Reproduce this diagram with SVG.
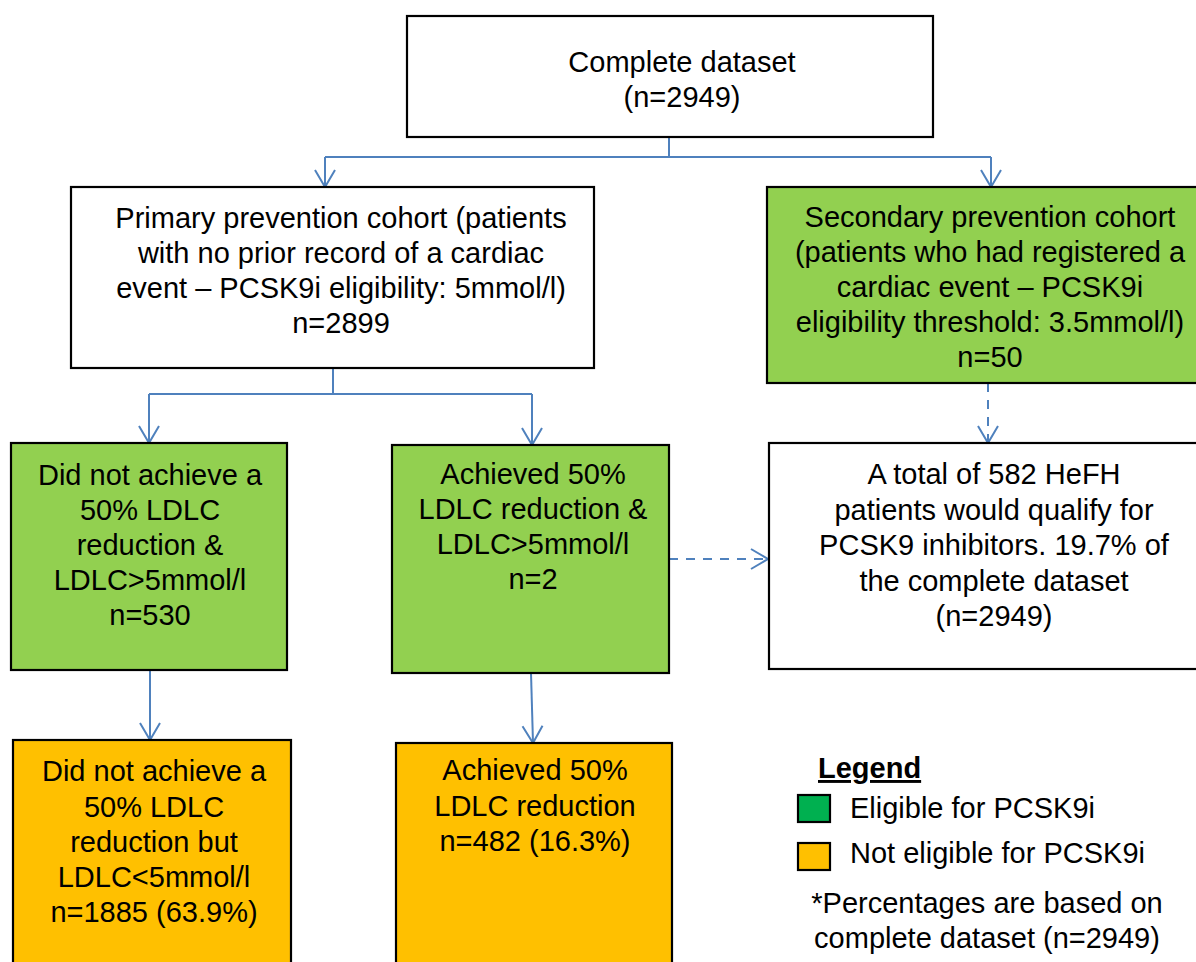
<svg xmlns="http://www.w3.org/2000/svg" width="1196" height="962" viewBox="0 0 1196 962">
  <style>
    .box { stroke: #000; stroke-width: 2.2; }
    .white { fill: #fff; }
    .green { fill: #92D050; }
    .orange { fill: #FFC000; }
    .t { font-family: "Liberation Sans", Arial, sans-serif; font-size: 29px; fill: #000; text-anchor: middle; }
    .tl { font-family: "Liberation Sans", Arial, sans-serif; font-size: 29px; fill: #000; }
    .conn { fill: none; stroke: #4F81BD; stroke-width: 2; }
    .dash { stroke-dasharray: 9 8; }
  </style>
  <defs>
    <marker id="arrow" markerUnits="userSpaceOnUse" viewBox="-19 -12 21 24" refX="0" refY="0" markerWidth="21" markerHeight="24" orient="auto">
      <path d="M -17 -10 L 0 0 L -17 10" fill="none" stroke="#4F81BD" stroke-width="2"/>
    </marker>
  </defs>

  <!-- connectors -->
  <g id="connectors">
    <path class="conn" d="M 669 137 V 157"/>
    <path class="conn" d="M 325 157 H 991"/>
    <path class="conn" d="M 325 157 V 187" marker-end="url(#arrow)"/>
    <path class="conn" d="M 991 157 V 187" marker-end="url(#arrow)"/>
    <path class="conn" d="M 333 368 V 394"/>
    <path class="conn" d="M 149 394 H 532"/>
    <path class="conn" d="M 149 394 V 443" marker-end="url(#arrow)"/>
    <path class="conn" d="M 532 394 V 445" marker-end="url(#arrow)"/>
    <path class="conn" d="M 150 670 V 740" marker-end="url(#arrow)"/>
    <path class="conn" d="M 531 673 L 533 743" marker-end="url(#arrow)"/>
    <path class="conn dash" d="M 988 383 V 443" marker-end="url(#arrow)"/>
    <path class="conn dash" d="M 669 559 H 768" marker-end="url(#arrow)"/>
  </g>

  <g id="complete-dataset">
    <rect class="box white" x="407" y="16" width="526" height="121"/>
    <text class="t" x="682" y="72">Complete dataset</text>
    <text class="t" x="682" y="107">(n=2949)</text>
  </g>

  <g id="primary-cohort">
    <rect class="box white" x="71" y="187" width="523" height="181"/>
    <text class="t" x="341" y="228">Primary prevention cohort (patients</text>
    <text class="t" x="341" y="263">with no prior record of a cardiac</text>
    <text class="t" x="341" y="298">event – PCSK9i eligibility: 5mmol/l)</text>
    <text class="t" x="341" y="333">n=2899</text>
  </g>

  <g id="secondary-cohort">
    <rect class="box green" x="767" y="187" width="440" height="196"/>
    <text class="t" x="990" y="227">Secondary prevention cohort</text>
    <text class="t" x="990" y="262">(patients who had registered a</text>
    <text class="t" x="990" y="297">cardiac event – PCSK9i</text>
    <text class="t" x="990" y="332">eligibility threshold: 3.5mmol/l)</text>
    <text class="t" x="990" y="367">n=50</text>
  </g>

  <g id="not-achieved-above">
    <rect class="box green" x="11" y="443" width="276" height="227"/>
    <text class="t" x="150" y="485">Did not achieve a</text>
    <text class="t" x="150" y="520">50% LDLC</text>
    <text class="t" x="150" y="555">reduction &amp;</text>
    <text class="t" x="150" y="590">LDLC&gt;5mmol/l</text>
    <text class="t" x="150" y="625">n=530</text>
  </g>

  <g id="achieved-above">
    <rect class="box green" x="392" y="445" width="277" height="228"/>
    <text class="t" x="533" y="484">Achieved 50%</text>
    <text class="t" x="533" y="519">LDLC reduction &amp;</text>
    <text class="t" x="533" y="554">LDLC&gt;5mmol/l</text>
    <text class="t" x="533" y="589">n=2</text>
  </g>

  <g id="total-qualifying">
    <rect class="box white" x="769" y="443" width="440" height="226"/>
    <text class="t" x="994" y="484">A total of 582 HeFH</text>
    <text class="t" x="994" y="519.5">patients would qualify for</text>
    <text class="t" x="994" y="555">PCSK9 inhibitors. 19.7% of</text>
    <text class="t" x="994" y="590.5">the complete dataset</text>
    <text class="t" x="994" y="626">(n=2949)</text>
  </g>

  <g id="not-achieved-below">
    <rect class="box orange" x="13" y="740" width="278" height="240"/>
    <text class="t" x="154" y="781">Did not achieve a</text>
    <text class="t" x="154" y="816.5">50% LDLC</text>
    <text class="t" x="154" y="852">reduction but</text>
    <text class="t" x="154" y="887">LDLC&lt;5mmol/l</text>
    <text class="t" x="154" y="922">n=1885 (63.9%)</text>
  </g>

  <g id="achieved-below">
    <rect class="box orange" x="396" y="743" width="276" height="240"/>
    <text class="t" x="535" y="780">Achieved 50%</text>
    <text class="t" x="535" y="816">LDLC reduction</text>
    <text class="t" x="535" y="851">n=482 (16.3%)</text>
  </g>

  <g id="legend">
    <text class="tl" x="818" y="778" font-weight="bold" text-decoration="underline">Legend</text>
    <rect class="box" x="798" y="795" width="32" height="27" fill="#00B050"/>
    <text class="tl" x="850" y="818">Eligible for PCSK9i</text>
    <rect class="box orange" x="798" y="843" width="32" height="27"/>
    <text class="tl" x="850" y="863">Not eligible for PCSK9i</text>
    <text class="t" x="987" y="913">*Percentages are based on</text>
    <text class="t" x="987" y="948">complete dataset (n=2949)</text>
  </g>
</svg>
